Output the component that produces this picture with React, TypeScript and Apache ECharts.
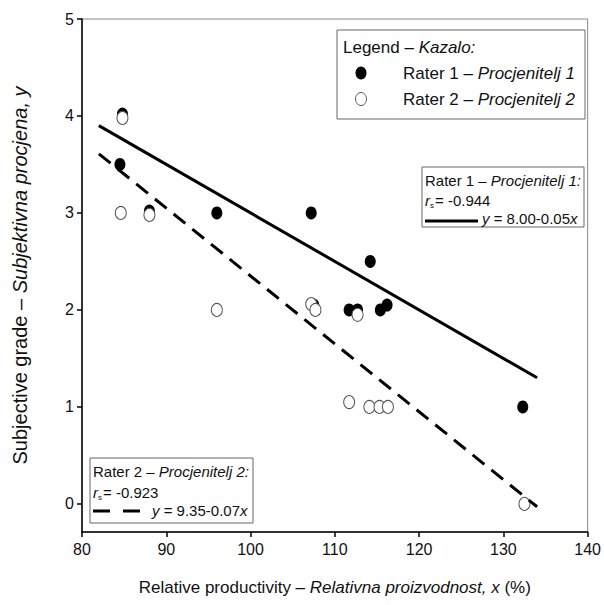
import React, { useEffect, useRef } from "react";
import * as echarts from "echarts";

// Rater 1 (filled circles)
const rater1X = [84.8, 84.5, 88.0, 96.0, 107.2, 114.2, 107.5, 111.7, 112.7, 115.4, 116.2, 132.3];
const rater1Y = [4.02, 3.5, 3.02, 3.0, 3.0, 2.5, 2.05, 2.0, 2.0, 2.0, 2.05, 1.0];
// Rater 2 (open circles)
const rater2X = [84.8, 84.6, 88.0, 96.0, 107.2, 107.7, 112.7, 111.7, 114.1, 115.3, 116.3, 132.5];
const rater2Y = [3.98, 3.0, 2.98, 2.0, 2.06, 2.0, 1.95, 1.05, 1.0, 1.0, 1.0, 0.0];
// Regression fits: [intercept, slope]
const rater1Fit = [8.0, -0.05];
const rater2Fit = [9.35, -0.07];
const fitRange = [82, 134];
// Axis ticks
const xTicks = [80, 90, 100, 110, 120, 130, 140];
const yTicks = [0, 1, 2, 3, 4, 5];

const FONT = "Liberation Sans, Arial, sans-serif";

function fitLine(fit: number[]) {
  return fitRange.map((x) => [x, fit[0] + fit[1] * x]);
}

export default function App() {
  const ref = useRef<HTMLDivElement>(null);
  useEffect(() => {
    document.body.style.margin = "0";
    const chart = echarts.init(ref.current!, null, { renderer: "svg" });
    const txt = (x: number, y: number, text: string, size: number, extra: any = {}) => ({
      type: "text",
      x,
      y,
      z: 100,
      style: {
        text,
        fontFamily: FONT,
        fontSize: size,
        fill: "#111",
        verticalAlign: "middle",
        rich: {
          i: { fontStyle: "italic", fontFamily: FONT, fontSize: size, fill: "#111" },
        },
        ...extra,
      },
    });
    const option: any = {
      animation: false,
      grid: {
        left: 82,
        right: 13,
        top: 19,
        bottom: 73,
        show: true,
        borderColor: "#888",
        borderWidth: 1,
        backgroundColor: "transparent",
      },
      xAxis: {
        type: "value",
        min: xTicks[0],
        max: xTicks[xTicks.length - 1],
        interval: 10,
        name: "Relative productivity – {i|Relativna proizvodnost, x} (%)",
        nameLocation: "middle",
        nameGap: 47,
        nameTextStyle: {
          fontFamily: FONT,
          fontSize: 17,
          color: "#111",
          rich: { i: { fontStyle: "italic", fontFamily: FONT, fontSize: 17, color: "#111" } },
        },
        axisLine: { show: true, onZero: false, lineStyle: { color: "#000", width: 1.5 } },
        axisTick: { show: true, inside: false, length: 5, lineStyle: { color: "#000", width: 1.5 } },
        axisLabel: { fontFamily: FONT, fontSize: 16, color: "#111", margin: 9 },
        splitLine: { show: false },
      },
      yAxis: {
        type: "value",
        min: -0.29,
        max: 5,
        name: "Subjective grade – {i|Subjektivna procjena, y}",
        nameLocation: "middle",
        nameGap: 52,
        nameTextStyle: {
          fontFamily: FONT,
          fontSize: 20,
          color: "#111",
          rich: { i: { fontStyle: "italic", fontFamily: FONT, fontSize: 20, color: "#111" } },
        },
        axisLine: { show: true, onZero: false, lineStyle: { color: "#000", width: 1.5 } },
        axisTick: {
          show: true,
          inside: false,
          length: 5,
          customValues: yTicks,
          lineStyle: { color: "#000", width: 1.5 },
        },
        axisLabel: {
          fontFamily: FONT,
          fontSize: 16,
          color: "#111",
          margin: 8,
          customValues: yTicks,
        },
        splitLine: { show: false },
      },
      series: [
        {
          type: "scatter",
          name: "Rater 1",
          symbol: "circle",
          symbolSize: [11, 13],
          itemStyle: { color: "#000", opacity: 1 },
          data: rater1X.map((x, i) => [x, rater1Y[i]]),
          z: 2,
        },
        {
          type: "scatter",
          name: "Rater 2",
          symbol: "circle",
          symbolSize: [11, 13],
          itemStyle: { color: "#fff", borderColor: "#555", borderWidth: 1, opacity: 1 },
          data: rater2X.map((x, i) => [x, rater2Y[i]]),
          z: 3,
        },
        {
          type: "line",
          name: "Fit 1",
          data: fitLine(rater1Fit),
          symbol: "none",
          lineStyle: { color: "#000", width: 3 },
          z: 4,
        },
        {
          type: "line",
          name: "Fit 2",
          data: fitLine(rater2Fit),
          symbol: "none",
          lineStyle: { color: "#000", width: 3, type: [15, 9] },
          z: 4,
        },
      ],
      graphic: [
        // Legend box
        {
          type: "rect",
          z: 90,
          shape: { x: 337, y: 30, width: 248, height: 89 },
          style: { fill: "#fff", stroke: "#666", lineWidth: 1 },
        },
        txt(343, 47, "Legend – {i|Kazalo:}", 17),
        {
          type: "ellipse",
          z: 100,
          shape: { cx: 361, cy: 73, rx: 5.5, ry: 6.5 },
          style: { fill: "#000" },
        },
        txt(403, 73, "Rater 1 – {i|Procjenitelj 1}", 17),
        {
          type: "ellipse",
          z: 100,
          shape: { cx: 361, cy: 99, rx: 5.5, ry: 6.5 },
          style: { fill: "#fff", stroke: "#555", lineWidth: 1 },
        },
        txt(403, 99, "Rater 2 – {i|Procjenitelj 2}", 17),
        // Rater 1 box
        {
          type: "rect",
          z: 90,
          shape: { x: 422, y: 167, width: 162, height: 60 },
          style: { fill: "#fff", stroke: "#666", lineWidth: 1 },
        },
        txt(425, 180, "Rater 1 – {i|Procjenitelj 1:}", 15),
        txt(425, 200, "{i|r}", 15),
        txt(430, 205, "s", 8),
        txt(435, 200, "= -0.944", 15),
        {
          type: "line",
          z: 100,
          shape: { x1: 425, y1: 221, x2: 478, y2: 221 },
          style: { stroke: "#000", lineWidth: 3 },
        },
        txt(482, 218, "{i|y} = 8.00-0.05{i|x}", 15),
        // Rater 2 box
        {
          type: "rect",
          z: 90,
          shape: { x: 90, y: 458, width: 163, height: 65 },
          style: { fill: "#fff", stroke: "#666", lineWidth: 1 },
        },
        txt(93, 471, "Rater 2 – {i|Procjenitelj 2:}", 15),
        txt(93, 492, "{i|r}", 15),
        txt(98, 497, "s", 8),
        txt(103, 492, "= -0.923", 15),
        {
          type: "line",
          z: 100,
          shape: { x1: 93, y1: 511, x2: 141, y2: 511 },
          style: { stroke: "#000", lineWidth: 3, lineDash: [17, 13] },
        },
        txt(152, 510, "{i|y} = 9.35-0.07{i|x}", 15),
      ],
    };
    chart.setOption(option);
    return () => chart.dispose();
  }, []);
  return <div ref={ref} style={{ width: 604, height: 605 }} />;
}
